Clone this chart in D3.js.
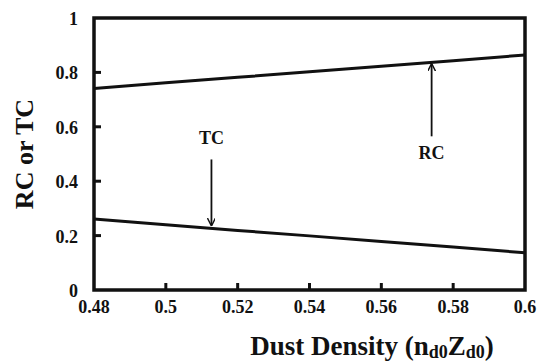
<!DOCTYPE html>
<html>
<head>
<meta charset="utf-8">
<script src="https://cdn.jsdelivr.net/npm/d3@7"></script>
<style>
  body { margin: 0; background: #fff; }
  text { font-family: "Liberation Serif", "Times New Roman", serif; font-weight: bold; fill: #111; }
</style>
</head>
<body>
<div id="chart"></div>
<script>
// Data
const density = [0.48, 0.50, 0.52, 0.54, 0.56, 0.58, 0.60];
const rc = [0.741, 0.762, 0.782, 0.802, 0.823, 0.843, 0.864];
const tc = [0.261, 0.240, 0.219, 0.199, 0.178, 0.158, 0.137];
const xTicks = [0.48, 0.5, 0.52, 0.54, 0.56, 0.58, 0.6];
const yTicks = [0, 0.2, 0.4, 0.6, 0.8, 1];
// arrow annotations
const notes = [
  { label: 'TC', x: 0.5127, from: 0.48, to: 0.238, labelY: 0.535 },
  { label: 'RC', x: 0.574, from: 0.565, to: 0.83, labelY: 0.48 }
];

const width = 538, height = 362;
const margin = { top: 18, right: 13, bottom: 72, left: 94 };

const svg = d3.select('#chart').append('svg')
  .attr('width', width)
  .attr('height', height);

const x = d3.scaleLinear().domain([0.48, 0.6]).range([margin.left, width - margin.right]);
const y = d3.scaleLinear().domain([0, 1]).range([height - margin.bottom, margin.top]);

// Frame
svg.append('rect')
  .attr('x', x(0.48)).attr('y', y(1))
  .attr('width', x(0.6) - x(0.48)).attr('height', y(0) - y(1))
  .attr('fill', 'none').attr('stroke', '#111').attr('stroke-width', 3.5);

// Inward ticks
svg.selectAll('.xtick').data(xTicks.slice(1, -1)).enter().append('line')
  .attr('x1', d => x(d)).attr('x2', d => x(d))
  .attr('y1', y(0)).attr('y2', y(0) - 7)
  .attr('stroke', '#111').attr('stroke-width', 3);
svg.selectAll('.ytick').data(yTicks.slice(1, -1)).enter().append('line')
  .attr('x1', x(0.48)).attr('x2', x(0.48) + 7)
  .attr('y1', d => y(d)).attr('y2', d => y(d))
  .attr('stroke', '#111').attr('stroke-width', 3);

// Tick labels
svg.selectAll('.xlab').data(xTicks).enter().append('text')
  .attr('x', d => x(d)).attr('y', y(0) + 23)
  .attr('text-anchor', 'middle').attr('font-size', 18)
  .text(d => d3.format('~g')(d));
svg.selectAll('.ylab').data(yTicks).enter().append('text')
  .attr('x', x(0.48) - 16).attr('y', d => y(d) + 7)
  .attr('text-anchor', 'end').attr('font-size', 18)
  .text(d => d3.format('~g')(d));

// Curves
const line = d3.line().x((d, i) => x(density[i])).y(d => y(d));
[rc, tc].forEach(s => {
  svg.append('path').datum(s)
    .attr('d', line)
    .attr('fill', 'none').attr('stroke', '#111').attr('stroke-width', 3);
});

// Arrow annotations
svg.append('defs').append('marker')
  .attr('id', 'arrow').attr('viewBox', '0 0 10 10')
  .attr('refX', 9).attr('refY', 5)
  .attr('markerWidth', 8).attr('markerHeight', 8)
  .attr('markerUnits', 'userSpaceOnUse')
  .attr('orient', 'auto')
  .append('path').attr('d', 'M0,0 L10,5 L0,10')
  .attr('fill', 'none').attr('stroke', '#111').attr('stroke-width', 1.8);

notes.forEach(n => {
  svg.append('line')
    .attr('x1', x(n.x)).attr('x2', x(n.x))
    .attr('y1', y(n.from)).attr('y2', y(n.to))
    .attr('stroke', '#111').attr('stroke-width', 1.8)
    .attr('marker-end', 'url(#arrow)');
  svg.append('text')
    .attr('x', x(n.x)).attr('y', y(n.labelY))
    .attr('text-anchor', 'middle').attr('font-size', 18)
    .text(n.label);
});

// Axis titles
const xt = svg.append('text')
  .attr('x', 372).attr('y', 355)
  .attr('text-anchor', 'middle').attr('font-size', 27);
xt.append('tspan').text('Dust Density (n');
xt.append('tspan').attr('font-size', 18).attr('dy', 3).text('d0');
xt.append('tspan').attr('dy', -3).text('Z');
xt.append('tspan').attr('font-size', 18).attr('dy', 3).text('d0');
xt.append('tspan').attr('dy', -3).text(')');

svg.append('text')
  .attr('transform', `translate(33,${(y(0) + y(1)) / 2}) rotate(-90)`)
  .attr('text-anchor', 'middle').attr('font-size', 26)
  .text('RC or TC');
</script>
</body>
</html>
